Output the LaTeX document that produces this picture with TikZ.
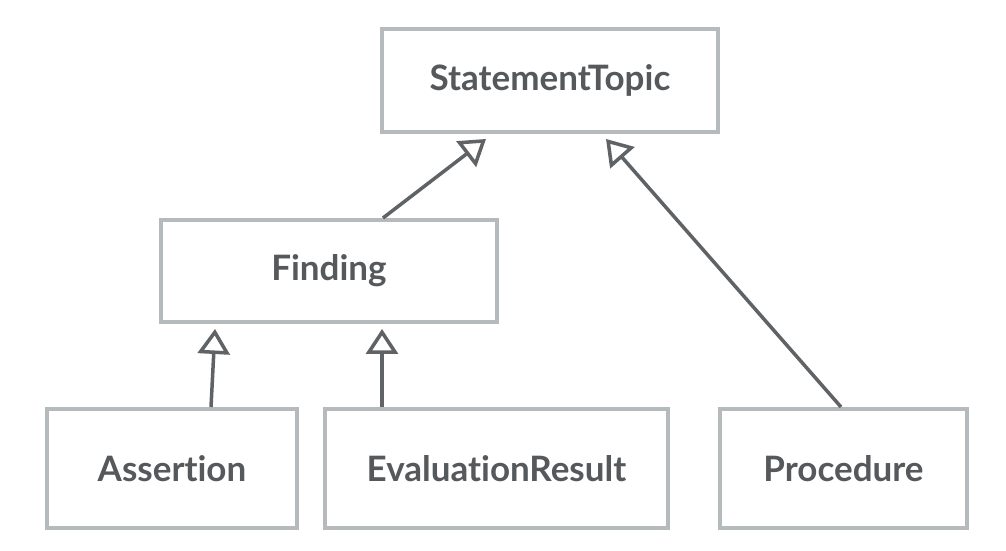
\documentclass[tikz,border=0pt]{standalone}
\usepackage{fontspec}
\setmainfont{Lato}[Ligatures={NoCommon,NoRare}]
\usetikzlibrary{arrows.meta}
\definecolor{boxline}{HTML}{B5BABD}
\definecolor{arrline}{HTML}{5F6366}
\definecolor{txt}{HTML}{55595C}
\tikzset{
  cls/.style={draw=boxline, line width=4pt, fill=white, inner sep=0pt, text=txt,
    font=\fontsize{35}{40}\selectfont\bfseries},
  inh/.style={draw=arrline, line width=3.5pt,
    -{Triangle[open, length=25pt, width=32pt, line join=miter]}}
}
\begin{document}
\begin{tikzpicture}[x=1pt,y=1pt]
\useasboundingbox[fill=white] (0,0) rectangle (1006,551);
\node[cls, minimum width=336pt, minimum height=103pt] (st) at (550,470.5) {StatementTopic};
\node[cls, minimum width=336pt, minimum height=102pt] (fi) at (329,280) {Finding};
\node[cls, minimum width=250pt, minimum height=119pt] (as) at (172,82.5) {Assertion};
\node[cls, minimum width=343pt, minimum height=119pt] (ev) at (496.5,82.5) {EvaluationResult};
\node[cls, minimum width=247pt, minimum height=119pt] (pr) at (843.5,82.5) {Procedure};
\draw[inh] ([xshift=224pt]fi.north west) -- ([xshift=106pt,yshift=-5pt]st.south west);
\draw[inh] ([xshift=123pt]pr.north west) -- ([xshift=226pt,yshift=-5pt]st.south west);
\draw[inh] ([xshift=166pt]as.north west) -- ([xshift=56pt,yshift=-5pt]fi.south west);
\draw[inh] ([xshift=59pt]ev.north west) -- ([xshift=223pt,yshift=-5pt]fi.south west);
\end{tikzpicture}
\end{document}
